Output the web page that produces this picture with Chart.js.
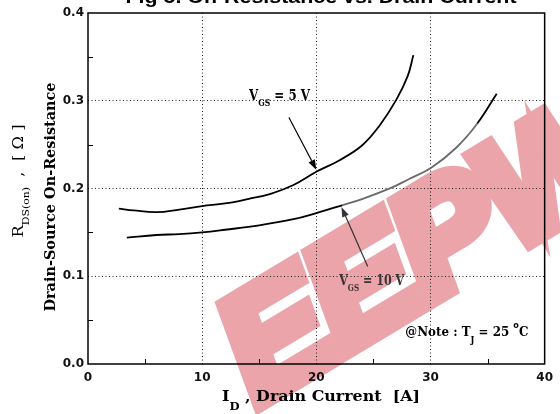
<!DOCTYPE html>
<html><head><meta charset="utf-8">
<script src="https://cdn.jsdelivr.net/npm/chart.js@4.4.0/dist/chart.umd.min.js"></script>
<style>html,body{margin:0;padding:0;background:#fff;}</style>
</head><body>
<canvas id="c" width="560" height="414"></canvas>
<script>
// ---- data ----
const xTickValues = [0, 10, 20, 30, 40];
const yTickValues = [0.0, 0.1, 0.2, 0.3, 0.4];
const xMinorTicks = [5, 15, 25, 35];
const yMinorTicks = [0.05, 0.15, 0.25, 0.35];

// VGS = 5 V
const id5 = [2.7, 4, 6, 8, 10, 12, 14, 16, 18, 20, 22, 24, 25.5, 27, 28, 28.5];
const r5  = [0.177, 0.175, 0.173, 0.176, 0.180, 0.183, 0.188, 0.194, 0.204, 0.219, 0.232, 0.249, 0.271, 0.301, 0.328, 0.352];
// VGS = 10 V
const id10 = [3.4, 6, 8, 10, 12, 15, 18, 20, 22.3, 24, 26.6, 28, 30.1, 32.3, 34.1, 35.8];
const r10  = [0.144, 0.147, 0.148, 0.150, 0.153, 0.158, 0.165, 0.172, 0.181, 0.188, 0.201, 0.210, 0.224, 0.247, 0.274, 0.308];

const titleText = 'Fig 5. On-Resistance vs. Drain Current';
const serifF = "'DejaVu Serif Condensed','DejaVu Serif','Liberation Serif',serif";
const sansF = "'DejaVu Sans','Liberation Sans',sans-serif";

function drawRich(ctx, segs, x, y, width, color, center) {
  ctx.save();
  let total = 0;
  const ws = segs.map(s => { ctx.font = s.f; const w = ctx.measureText(s.t).width; total += w; return w; });
  const sc = width ? width / total : 1;
  ctx.translate(center ? x - total * sc / 2 : x, y);
  ctx.scale(sc, 1);
  ctx.fillStyle = color; ctx.textBaseline = 'middle'; ctx.textAlign = 'left';
  let cx = 0;
  segs.forEach((s, i) => { ctx.font = s.f; ctx.fillText(s.t, cx, s.dy || 0); cx += ws[i]; });
  ctx.restore();
}
function arrow(ctx, x0, y0, x1, y1, color) {
  const a = Math.atan2(y1 - y0, x1 - x0), L = 10, W = 3.5;
  ctx.save();
  ctx.strokeStyle = color; ctx.fillStyle = color; ctx.lineWidth = 1.2;
  ctx.beginPath(); ctx.moveTo(x0, y0); ctx.lineTo(x1 - L * Math.cos(a), y1 - L * Math.sin(a)); ctx.stroke();
  ctx.beginPath(); ctx.moveTo(x1, y1);
  ctx.lineTo(x1 - L * Math.cos(a) - W * Math.sin(a), y1 - L * Math.sin(a) + W * Math.cos(a));
  ctx.lineTo(x1 - L * Math.cos(a) + W * Math.sin(a), y1 - L * Math.sin(a) - W * Math.cos(a));
  ctx.closePath(); ctx.fill();
  ctx.restore();
}

const decor = {
  id: 'decor',
  beforeDraw(chart) {
    const ctx = chart.ctx;
    ctx.save();
    ctx.translate(262, 412);
    ctx.rotate(-31 * Math.PI / 180);
    ctx.font = "italic bold 150px 'Liberation Sans', sans-serif";
    ctx.fillStyle = '#eba4aa'; ctx.strokeStyle = '#eba4aa';
    ctx.lineWidth = 16; ctx.lineJoin = 'miter';
    ctx.textBaseline = 'alphabetic';
    ctx.strokeText('EEPW', 0, -8);
    ctx.fillText('EEPW', 0, -8);
    ctx.restore();
  },
  afterDraw(chart) {
    const ctx = chart.ctx, a = chart.chartArea, xs = chart.scales.x, ys = chart.scales.y;
    // frame
    ctx.save();
    ctx.strokeStyle = '#000'; ctx.lineWidth = 1.5;
    ctx.strokeRect(a.left, a.top, a.right - a.left, a.bottom - a.top);
    ctx.lineWidth = 1;
    ctx.beginPath();
    xMinorTicks.forEach(v => { const px = Math.round(xs.getPixelForValue(v)) + 0.5; ctx.moveTo(px, a.bottom); ctx.lineTo(px, a.bottom - 5); });
    yMinorTicks.forEach(v => { const py = Math.round(ys.getPixelForValue(v)) + 0.5; ctx.moveTo(a.left, py); ctx.lineTo(a.left + 5, py); });
    ctx.stroke();
    ctx.restore();

    // title (cut at top)
    drawRich(ctx, [{t: titleText, f: "bold 18px 'Liberation Sans',sans-serif"}], 321, -2, 391, '#000', true);

    // annotations in data coordinates
    const P = (x, y) => [xs.getPixelForValue(x), ys.getPixelForValue(y)];
    const big = 'bold 14px ' + serifF, sub = 'bold 9px ' + serifF;
    let p = P(14.1, 0.3045);
    drawRich(ctx, [{t: 'V', f: big}, {t: 'GS', f: sub, dy: 7}, {t: ' = 5 V', f: big}], p[0], p[1], 61, '#000');
    let q0 = P(17.6, 0.281), q1 = P(20.0, 0.2215);
    arrow(ctx, q0[0], q0[1], q1[0], q1[1], '#000');
    q0 = P(24.5, 0.111); q1 = P(22.2, 0.179);
    arrow(ctx, q0[0], q0[1], q1[0], q1[1], '#333');
    p = P(22.0, 0.094);
    drawRich(ctx, [{t: 'V', f: big}, {t: 'GS', f: sub, dy: 7}, {t: ' = 10 V', f: big}], p[0], p[1], 65, '#3b3333');
    p = P(27.8, 0.036);
    const nf = 'bold 13px ' + serifF;
    drawRich(ctx, [{t: '@Note : T', f: nf}, {t: 'J', f: sub, dy: 8}, {t: ' = 25 ', f: nf}, {t: 'o', f: 'bold 8px ' + sansF, dy: -6}, {t: 'C', f: nf}], p[0], p[1], 123, '#000');

    // x axis title
    const tf = '600 15px ' + serifF, tsf = '600 11px ' + serifF;
    drawRich(ctx, [{t: 'I', f: tf}, {t: 'D', f: tsf, dy: 10}, {t: ' , Drain Current  [A]', f: tf}], 222, 397, 198, '#000');
    // y axis titles (rotated)
    ctx.save(); ctx.translate(19, 181); ctx.rotate(-Math.PI / 2);
    drawRich(ctx, [{t: 'R', f: '15px ' + serifF}, {t: 'DS(on)', f: '10px ' + serifF, dy: 7}, {t: '  ,  [ Ω ]', f: '15px ' + serifF}], 0, 0, 113, '#000', true);
    ctx.restore();
    ctx.save(); ctx.translate(51, 197); ctx.rotate(-Math.PI / 2);
    drawRich(ctx, [{t: 'Drain-Source On-Resistance', f: '600 15px ' + serifF}], 0, 0, 229, '#000', true);
    ctx.restore();
  }
};

const gridColor = (edgeVals) => (c) => (c.tick && edgeVals.some(v => Math.abs(c.tick.value - v) < 1e-9)) ? 'rgba(0,0,0,0)' : '#222';

new Chart(document.getElementById('c'), {
  type: 'line',
  data: {
    datasets: [
      {label: 'VGS = 5 V', data: id5.map((x, i) => ({x, y: r5[i]})), borderColor: '#000', borderWidth: 1.8,
       pointRadius: 0, tension: 0.4, fill: false},
      {label: 'VGS = 10 V', data: id10.map((x, i) => ({x, y: r10[i]})), borderColor: '#000', borderWidth: 1.8,
       pointRadius: 0, tension: 0.4, fill: false,
       segment: {borderColor: c => (c.p0.parsed.x >= 22 && c.p1.parsed.x <= 34.2) ? '#6a6a6a' : undefined}}
    ]
  },
  options: {
    responsive: false, animation: false, devicePixelRatio: 1,
    layout: {padding: {top: 13, right: 8, left: 0, bottom: 0}},
    plugins: {legend: {display: false}, tooltip: {enabled: false}},
    scales: {
      x: {type: 'linear', min: 0, max: 40,
          afterBuildTicks: s => { s.ticks = xTickValues.map(v => ({value: v})); },
          afterFit: s => { s.height = 50; },
          ticks: {color: '#111', font: {family: sansF, size: 12, weight: 'bold'}, padding: 7, maxRotation: 0,
                  callback: v => String(v)},
          grid: {color: gridColor([0, 40]), lineWidth: 1, drawTicks: false},
          border: {display: false, dash: [1, 2.5]}},
      y: {type: 'linear', min: 0, max: 0.4,
          afterBuildTicks: s => { s.ticks = yTickValues.map(v => ({value: v})); },
          afterFit: s => { s.width = 88; },
          ticks: {color: '#111', font: {family: sansF, size: 12, weight: 'bold'}, padding: 4,
                  callback: v => Number(v).toFixed(1)},
          grid: {color: gridColor([0, 0.4]), lineWidth: 1, drawTicks: false},
          border: {display: false, dash: [1, 2.5]}}
    }
  },
  plugins: [decor]
});
</script>
</body></html>
